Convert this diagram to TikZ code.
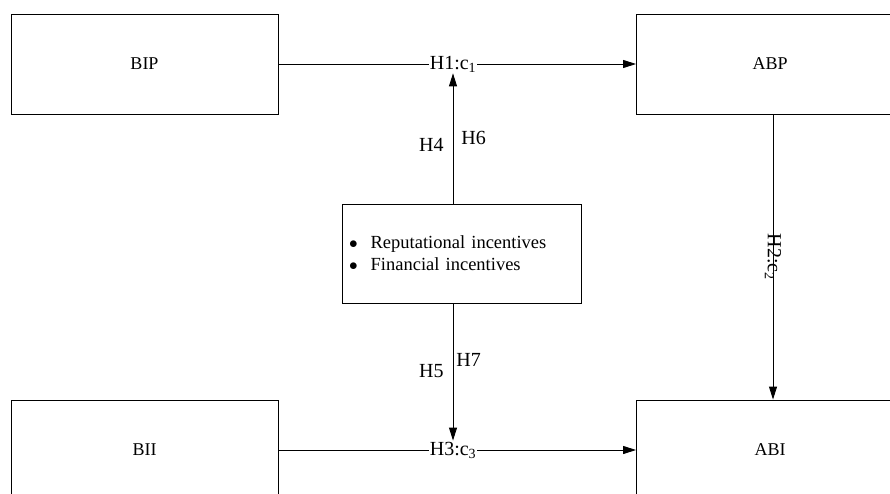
\documentclass[tikz,border=0pt]{standalone}
\usepackage{fontspec}
\setmainfont{Liberation Serif}
\usetikzlibrary{arrows.meta}
\tikzset{
  varbox/.style={draw, line width=0.9pt, minimum width=267pt, minimum height=100pt, inner sep=0pt, font=\fontsize{18}{21}\selectfont},
  hlab/.style={inner sep=1pt, font=\fontsize{20}{23}\selectfont},
  link/.style={line width=0.9pt, -{Triangle[length=13pt,width=8pt]}}
}
\begin{document}
\begin{tikzpicture}[x=1pt,y=-1pt]
\useasboundingbox (0,0) rectangle (890,494);
\clip (0,0) rectangle (890,494);
\node[varbox] (bip) at (144.5,64) {BIP};
\node[varbox] (abp) at (770,64) {ABP};
\node[varbox] (bii) at (144.5,450) {BII};
\node[varbox] (abi) at (770,450) {ABI};
\node[draw, line width=0.9pt, minimum width=239pt, minimum height=99pt, text width=225pt, align=left,
  font=\fontsize{18.5}{22}\selectfont] (inc) at (461.5,253.5)
  {$\bullet$\hspace{13pt}Reputational incentives\\ $\bullet$\hspace{13pt}Financial incentives};
\node[hlab] (h1) at (453,64) {H1:c\textsubscript{1}};
\node[hlab] (h3) at (453,450) {H3:c\textsubscript{3}};
\node[hlab, rotate=-90] (h2) at (773,257) {H2:c\textsubscript{2}};
\draw[line width=0.9pt] (bip.east) -- (h1.west);
\draw[link] (h1.east) -- (abp.west);
\draw[line width=0.9pt] (bii.east) -- (h3.west);
\draw[link] (h3.east) -- (abi.west);
\draw[line width=0.9pt] (abp.south -| h2) -- (h2.east);
\draw[link] (h2.west) -- (abi.north -| h2);
\draw[link] (inc.north -| h1) -- (h1.south)
  node[hlab, pos=.45, left=8pt] (h4) {H4}
  node[hlab, pos=.5, right=7pt] (h6) {H6};
\draw[link] (inc.south -| h3) -- (h3.north)
  node[hlab, pos=.49, left=8pt] (h5) {H5}
  node[hlab, pos=.41, right=2pt] (h7) {H7};
\end{tikzpicture}
\end{document}
